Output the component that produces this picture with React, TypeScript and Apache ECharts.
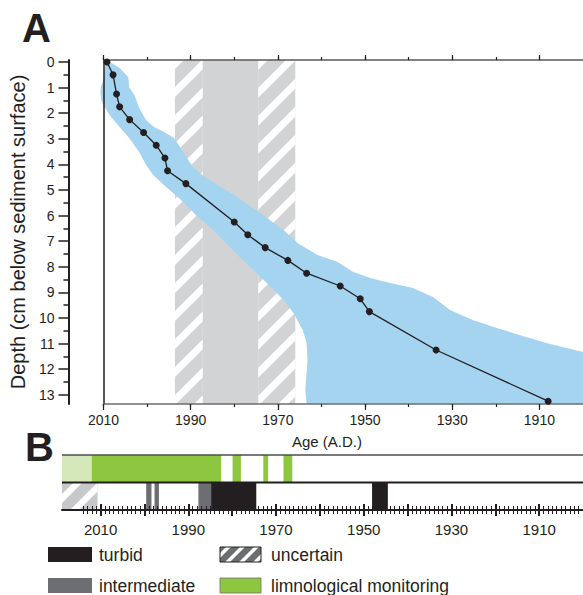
import React, { useEffect, useRef } from 'react';
import * as echarts from 'echarts';

const FONT = '"Liberation Sans", Arial, Helvetica, sans-serif';
const INK = '#231f20';

// ---------- Panel A: age-depth model ----------
const AGE = [2009.2, 2007.8, 2007.0, 2006.3, 2004.0, 2000.8, 1997.9, 1995.9, 1995.3, 1991.1, 1980.0, 1976.9, 1972.9, 1967.7, 1963.4, 1955.7, 1951.1, 1949.0, 1933.7, 1908.0];
const DEPTH = [0.0, 0.5, 1.25, 1.75, 2.25, 2.75, 3.25, 3.75, 4.25, 4.75, 6.25, 6.75, 7.25, 7.75, 8.25, 8.75, 9.25, 9.75, 11.25, 13.25];

// uncertainty envelope outline (age, depth)
const BAND_AGE = [2009.3, 2006.3, 2004.3, 2004.1, 2002.9, 2001.8, 2000.2, 1998.4, 1996.1, 1993.8, 1991.7, 1989.5, 1986.5, 1982.6, 1979.0, 1974.4, 1971.2, 1968.2, 1965.5, 1960.9, 1956.3, 1952.7, 1948.8, 1944.2, 1939.0, 1934.4, 1930.5, 1925.3, 1919.8, 1914.6, 1908.4, 1903.8, 1900.0, 1900.0,
  1963.4, 1963.7, 1963.2, 1963.4, 1964.3, 1966.4, 1968.7, 1971.6, 1975.1, 1978.5, 1981.9, 1985.3, 1988.8, 1992.2, 1995.6, 1998.6, 2000.2, 2001.8, 2004.1, 2006.3, 2008.6, 2010.0, 2010.5, 2010.7, 2010.5, 2010.0, 2009.8];
const BAND_DEPTH = [-0.08, 0.23, 0.59, 0.98, 1.29, 1.80, 2.27, 2.54, 2.73, 2.97, 3.52, 4.10, 4.53, 4.92, 5.31, 5.86, 6.25, 6.64, 7.07, 7.54, 7.81, 8.20, 8.44, 8.63, 8.83, 9.18, 9.69, 10.08, 10.39, 10.66, 10.98, 11.17, 11.33, 13.36,
  13.36, 12.81, 11.64, 10.98, 10.47, 9.80, 9.30, 8.79, 8.20, 7.66, 7.07, 6.48, 5.98, 5.39, 4.88, 4.41, 4.02, 3.52, 2.97, 2.54, 2.07, 1.68, 1.48, 1.17, 0.90, 0.70, 0.31];

// shaded period in panel A
const A_SHADE_START = [1993.6, 1987.2, 1974.5];
const A_SHADE_END = [1987.2, 1974.5, 1966.0];
const A_SHADE_KIND = ['uncertain', 'solid', 'uncertain'];

const DEPTH_TICKS = [0, 1, 2, 3, 4, 5, 6, 7, 8, 9, 10, 11, 12, 13];
const DEPTH_HALF = [0.5, 1.5, 2.5, 3.5, 4.5, 5.5, 6.5, 7.5, 8.5, 9.5, 10.5, 11.5, 12.5];
const AGE_LABELS = [2010, 1990, 1970, 1950, 1930, 1910];
const AGE_TICKS = [2010, 2000, 1990, 1980, 1970, 1960, 1950, 1940, 1930, 1920, 1910];

// ---------- Panel B: lake state ----------
const B_START = [2018.8, 2012.0, 1979.9, 1972.9, 1968.3, 2018.8, 1999.6, 1997.7, 1987.7, 1984.8, 1948.1];
const B_END = [2012.0, 1982.5, 1978.0, 1971.8, 1966.3, 2010.7, 1998.4, 1996.7, 1984.8, 1974.5, 1944.5];
const B_ROW = [1, 1, 1, 1, 1, 0, 0, 0, 0, 0, 0];
const B_KIND = ['early', 'monitoring', 'monitoring', 'monitoring', 'monitoring', 'uncertain', 'intermediate', 'intermediate', 'intermediate', 'turbid', 'turbid'];
const B_LABELS = [2010, 1990, 1970, 1950, 1930, 1910];
const B_TENS = [2010, 2000, 1990, 1980, 1970, 1960, 1950, 1940, 1930, 1920, 1910];
const B_YEARS = Array.from({ length: 114 }, (_, i) => 1901 + i);

const KIND_COLOR: Record<string, string> = {
  early: '#d5e8b9',
  monitoring: '#8dc63f',
  intermediate: '#6d6e71',
  turbid: '#231f20',
  uncertain: '#c7c8ca',
};

type Pt = number[];
function clipAgainst(pts: Pt[], inside: (p: Pt) => boolean, inter: (a: Pt, b: Pt) => Pt): Pt[] {
  const res: Pt[] = [];
  for (let i = 0; i < pts.length; i++) {
    const cur = pts[i];
    const prev = pts[(i + pts.length - 1) % pts.length];
    const ci = inside(cur), pi = inside(prev);
    if (ci) {
      if (!pi) res.push(inter(prev, cur));
      res.push(cur);
    } else if (pi) res.push(inter(prev, cur));
  }
  return res;
}
function clipRect(poly: Pt[], x0: number, y0: number, x1: number, y1: number): Pt[] {
  const ix = (X: number) => (a: Pt, b: Pt) => { const t = (X - a[0]) / (b[0] - a[0]); return [X, a[1] + t * (b[1] - a[1])]; };
  const iy = (Y: number) => (a: Pt, b: Pt) => { const t = (Y - a[1]) / (b[1] - a[1]); return [a[0] + t * (b[0] - a[0]), Y]; };
  let out = poly;
  out = clipAgainst(out, (p) => p[0] >= x0, ix(x0));
  out = clipAgainst(out, (p) => p[0] <= x1, ix(x1));
  out = clipAgainst(out, (p) => p[1] >= y0, iy(y0));
  out = clipAgainst(out, (p) => p[1] <= y1, iy(y1));
  return out;
}
function hatch(x0: number, y0: number, x1: number, y1: number, period: number, thick: number, phase: number): Pt[][] {
  const polys: Pt[][] = [];
  const cMin = x0 + y0 - thick;
  const cMax = x1 + y1;
  let c = Math.floor((cMin - phase) / period) * period + phase;
  const L = x0 - 10, R = x1 + 10;
  for (; c <= cMax; c += period) {
    const quad = [[L, c - L], [R, c - R], [R, c + thick - R], [L, c + thick - L]];
    const p = clipRect(quad, x0, y0, x1, y1);
    if (p.length >= 3) polys.push(p);
  }
  return polys;
}

function hatchedRect(x0: number, y0: number, x1: number, y1: number, bg: string, period: number, thick: number, phase: number, border?: string) {
  const children: any[] = [
    { type: 'rect', shape: { x: x0, y: y0, width: x1 - x0, height: y1 - y0 }, style: { fill: bg } },
  ];
  hatch(x0, y0, x1, y1, period, thick, phase).forEach((p) =>
    children.push({ type: 'polygon', shape: { points: p }, style: { fill: '#ffffff' } })
  );
  if (border) {
    children.push({ type: 'rect', shape: { x: x0, y: y0, width: x1 - x0, height: y1 - y0 }, style: { fill: 'none', stroke: border, lineWidth: 1 } });
  }
  return children;
}

const yearFmt = (v: number) => String(Math.round(v));

function buildOption(): any {
  const txt = { fontFamily: FONT, color: INK };
  const tickOnlyX = (grid: number, min: number, max: number, pos: string, tick: any) => ({
    type: 'value', gridIndex: grid, position: pos, min, max, inverse: true, z: 5,
    axisLine: { show: false, onZero: false },
    axisTick: { show: true, ...tick },
    axisLabel: { show: false },
    splitLine: { show: false },
  });

  return {
    animation: false,
    backgroundColor: '#ffffff',
    textStyle: { fontFamily: FONT },
    grid: [
      { left: 102, top: 60, width: 481, height: 344 },
      { left: 62, top: 455, width: 521, height: 55 },
    ],
    xAxis: [
      {
        type: 'value', gridIndex: 0, position: 'bottom', min: 1900, max: 2010, inverse: true, z: 5,
        axisLine: { show: true, onZero: false, lineStyle: { color: '#6d6e71', width: 1.5 } },
        axisTick: { show: true, customValues: AGE_TICKS, length: 3, lineStyle: { color: INK, width: 1.2 } },
        axisLabel: { show: true, customValues: AGE_LABELS, formatter: yearFmt, margin: 9, fontSize: 14, ...txt },
        splitLine: { show: false },
      },
      tickOnlyX(0, 1900, 2010, 'bottom', { customValues: AGE_LABELS, length: 6, lineStyle: { color: INK, width: 1.2 } }),
      {
        type: 'value', gridIndex: 0, position: 'top', min: 1900, max: 2010, inverse: true, z: 5,
        axisLine: { show: true, onZero: false, lineStyle: { color: '#58595b', width: 1.5 } },
        axisTick: { show: true, customValues: AGE_TICKS, length: 3, lineStyle: { color: INK, width: 1.2 } },
        axisLabel: { show: false },
        splitLine: { show: false },
      },
      tickOnlyX(0, 1900, 2010, 'top', { customValues: AGE_LABELS, length: 5, lineStyle: { color: INK, width: 1.2 } }),
      {
        type: 'value', gridIndex: 1, position: 'bottom', min: 1900, max: 2018.8, inverse: true, z: 5,
        axisLine: { show: true, onZero: false, lineStyle: { color: INK, width: 2 } },
        axisTick: { show: true, customValues: B_YEARS, length: 4, lineStyle: { color: INK, width: 1 } },
        axisLabel: { show: true, customValues: B_LABELS, formatter: yearFmt, margin: 12, fontSize: 15, ...txt },
        splitLine: { show: false },
      },
      tickOnlyX(1, 1900, 2018.8, 'bottom', { customValues: B_YEARS, inside: true, length: 4, lineStyle: { color: INK, width: 1 } }),
      tickOnlyX(1, 1900, 2018.8, 'bottom', { customValues: B_TENS, length: 6, lineStyle: { color: INK, width: 2 } }),
      tickOnlyX(1, 1900, 2018.8, 'bottom', { customValues: B_TENS, inside: true, length: 6, lineStyle: { color: INK, width: 2 } }),
    ],
    yAxis: [
      {
        type: 'value', gridIndex: 0, position: 'left', offset: 35, inverse: true, min: -0.08, max: 13.36, z: 5,
        axisLine: { show: true, onZero: false, lineStyle: { color: INK, width: 2 } },
        axisTick: { show: true, customValues: DEPTH_TICKS, length: 10, lineStyle: { color: INK, width: 1.5 } },
        axisLabel: { show: true, customValues: DEPTH_TICKS, margin: 14, fontSize: 14, ...txt },
        name: 'Depth (cm below sediment surface)', nameLocation: 'middle', nameGap: 38,
        nameTextStyle: { fontSize: 20, ...txt },
        splitLine: { show: false },
      },
      {
        type: 'value', gridIndex: 0, position: 'left', offset: 35, inverse: true, min: -0.08, max: 13.36, z: 5,
        axisLine: { show: false, onZero: false },
        axisTick: { show: true, customValues: DEPTH_HALF, length: 5, lineStyle: { color: INK, width: 1.5 } },
        axisLabel: { show: false },
        splitLine: { show: false },
      },
      {
        type: 'value', gridIndex: 0, position: 'left', offset: 0, inverse: true, min: -0.08, max: 13.36, z: 5,
        axisLine: { show: true, onZero: false, lineStyle: { color: INK, width: 1.5 } },
        axisTick: { show: false }, axisLabel: { show: false }, splitLine: { show: false },
      },
      { type: 'value', gridIndex: 1, min: 0, max: 2, show: false, splitLine: { show: false } },
    ],
    series: [
      {
        type: 'custom', name: 'shade', xAxisIndex: 0, yAxisIndex: 0, z: 1, silent: true,
        data: A_SHADE_START.map((s, i) => [s, A_SHADE_END[i]]),
        renderItem: (params: any, api: any) => {
          const cs = params.coordSys;
          const xa = api.coord([api.value(0), 0])[0];
          const xb = api.coord([api.value(1), 0])[0];
          const x0 = Math.min(xa, xb), x1 = Math.max(xa, xb);
          const y0 = cs.y, y1 = cs.y + cs.height;
          if (A_SHADE_KIND[params.dataIndex] === 'uncertain') {
            return { type: 'group', children: hatchedRect(x0, y0, x1, y1, '#d1d3d4', 28, 10, 10) };
          }
          return { type: 'rect', shape: { x: x0, y: y0, width: x1 - x0, height: y1 - y0 }, style: { fill: '#d1d3d4' } };
        },
      },
      {
        type: 'custom', name: 'envelope', xAxisIndex: 0, yAxisIndex: 0, z: 2, silent: true,
        data: [[1950, 6]],
        renderItem: (_params: any, api: any) => {
          const pts = BAND_AGE.map((a, i) => api.coord([a, BAND_DEPTH[i]]));
          return { type: 'polygon', shape: { points: pts }, style: { fill: '#a5d4f0' } };
        },
      },
      {
        type: 'line', name: 'age model', xAxisIndex: 0, yAxisIndex: 0, z: 10,
        data: AGE.map((a, i) => [a, DEPTH[i]]),
        symbol: 'circle', symbolSize: 7, showSymbol: true,
        itemStyle: { color: INK },
        lineStyle: { color: INK, width: 1.3 },
        clip: false,
      },
      {
        type: 'custom', name: 'states', xAxisIndex: 4, yAxisIndex: 3, z: 2, silent: true,
        data: B_START.map((s, i) => [s, B_ROW[i], B_END[i]]),
        renderItem: (params: any, api: any) => {
          const s = api.value(0), row = api.value(1), e = api.value(2);
          const p0 = api.coord([s, row + 1]);
          const p1 = api.coord([e, row]);
          const x0 = Math.min(p0[0], p1[0]), x1 = Math.max(p0[0], p1[0]);
          const y0 = Math.min(p0[1], p1[1]), y1 = Math.max(p0[1], p1[1]);
          const kind = B_KIND[params.dataIndex];
          if (kind === 'uncertain') {
            return { type: 'group', children: hatchedRect(x0, y0, x1, y1, KIND_COLOR.uncertain, 24, 9, 4) };
          }
          return { type: 'rect', shape: { x: x0, y: y0, width: x1 - x0, height: y1 - y0 }, style: { fill: KIND_COLOR[kind] } };
        },
      },
      {
        type: 'custom', name: 'rows', xAxisIndex: 4, yAxisIndex: 3, z: 6, silent: true,
        data: [[1950, 2], [1950, 1]],
        renderItem: (params: any, api: any) => {
          const cs = params.coordSys;
          const y = api.coord([1950, api.value(1)])[1];
          const top = params.dataIndex === 0;
          return {
            type: 'line',
            shape: { x1: cs.x, y1: y, x2: cs.x + cs.width, y2: y },
            style: { stroke: top ? '#4d4d4f' : INK, lineWidth: top ? 1.5 : 2 },
          };
        },
      },
    ],
    graphic: [
      { type: 'text', x: 22, y: 28, style: { text: 'A', font: `bold 40px ${FONT}`, fill: INK, verticalAlign: 'middle' } },
      { type: 'text', x: 25, y: 447, style: { text: 'B', font: `bold 40px ${FONT}`, fill: INK, verticalAlign: 'middle' } },
      { type: 'text', x: 327, y: 441, style: { text: 'Age (A.D.)', font: `15px ${FONT}`, fill: INK, align: 'center', verticalAlign: 'middle' } },
      // legend
      { type: 'rect', shape: { x: 48, y: 547, width: 44, height: 15 }, style: { fill: KIND_COLOR.turbid } },
      { type: 'text', x: 99, y: 555, style: { text: 'turbid', font: `17.5px ${FONT}`, fill: INK, verticalAlign: 'middle' } },
      { type: 'group', children: hatchedRect(220, 547, 261, 562, KIND_COLOR.intermediate, 14, 5, 3, INK) },
      { type: 'text', x: 271, y: 555, style: { text: 'uncertain', font: `17.5px ${FONT}`, fill: INK, verticalAlign: 'middle' } },
      { type: 'rect', shape: { x: 48, y: 578, width: 44, height: 15 }, style: { fill: KIND_COLOR.intermediate } },
      { type: 'text', x: 99, y: 586, style: { text: 'intermediate', font: `17.5px ${FONT}`, fill: INK, verticalAlign: 'middle' } },
      { type: 'rect', shape: { x: 220, y: 578, width: 41, height: 15 }, style: { fill: KIND_COLOR.monitoring, stroke: '#6d6e71', lineWidth: 0.8 } },
      { type: 'text', x: 271, y: 586, style: { text: 'limnological monitoring', font: `17.5px ${FONT}`, fill: INK, verticalAlign: 'middle' } },
    ],
  };
}

export default function App() {
  const ref = useRef<HTMLDivElement>(null);
  useEffect(() => {
    if (!ref.current) return;
    const chart = echarts.init(ref.current, null, { renderer: 'svg', width: 583, height: 595 });
    chart.setOption(buildOption());
    return () => chart.dispose();
  }, []);
  return (
    <div
      ref={ref}
      style={{ position: 'fixed', left: 0, top: 0, width: 583, height: 595, background: '#ffffff' }}
    />
  );
}
